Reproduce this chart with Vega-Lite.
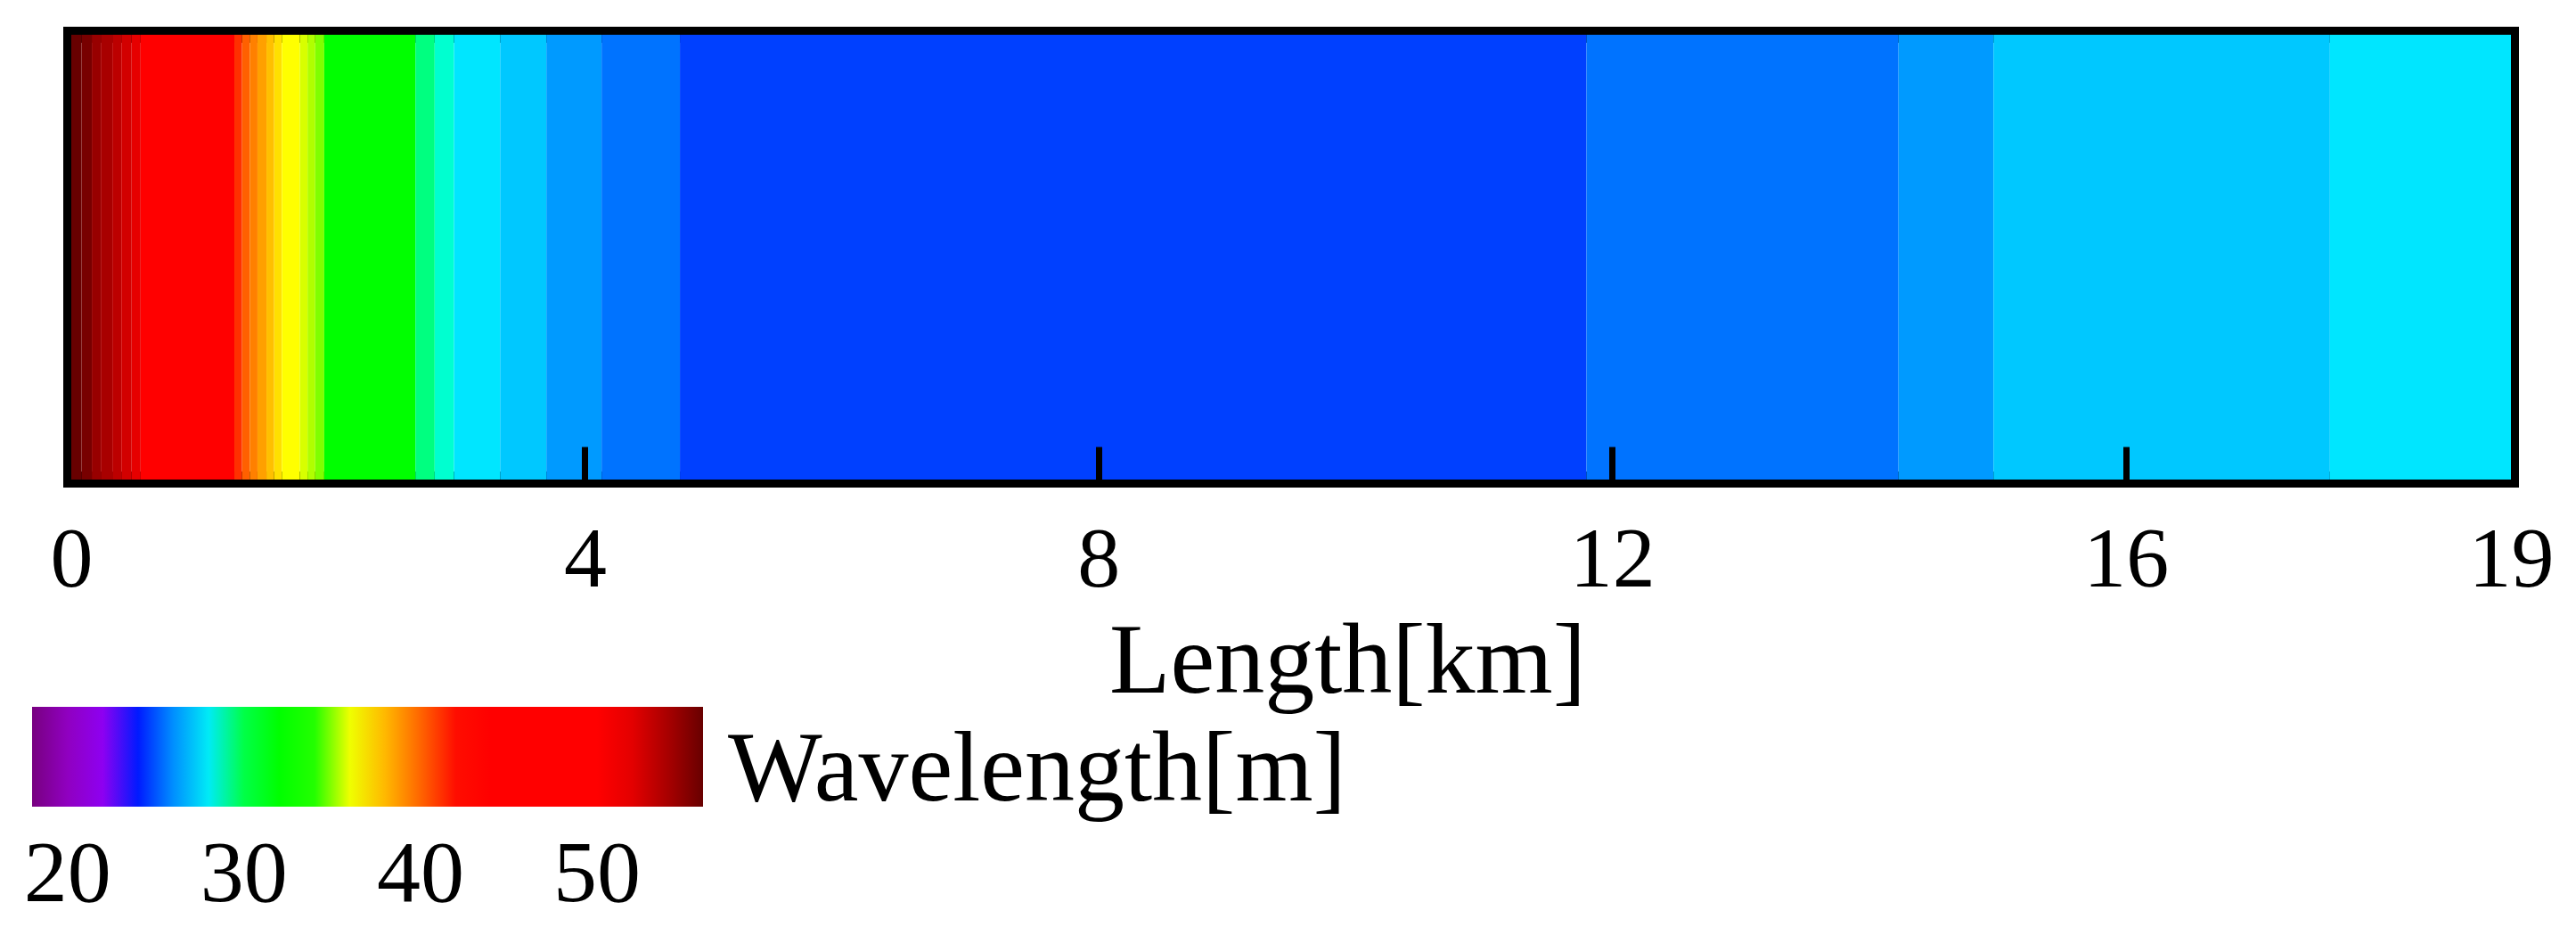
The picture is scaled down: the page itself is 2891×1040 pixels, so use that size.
{
  "$schema": "https://vega.github.io/schema/vega-lite/v6.json",
  "width": 2738,
  "height": 499,
  "autosize": {"type": "none"},
  "padding": {"left": 80, "top": 39, "right": 73, "bottom": 502},
  "background": "white",
  "config": {
    "view": {"stroke": "black", "strokeWidth": 18},
    "font": "Liberation Serif"
  },
  "data": {
    "values": [
      {"start": 0, "end": 0.08, "wl": 56.0},
      {"start": 0.08, "end": 0.16, "wl": 55.3},
      {"start": 0.16, "end": 0.23, "wl": 54.7},
      {"start": 0.23, "end": 0.32, "wl": 54.0},
      {"start": 0.32, "end": 0.39, "wl": 53.3},
      {"start": 0.39, "end": 0.47, "wl": 52.6},
      {"start": 0.47, "end": 0.54, "wl": 51.9},
      {"start": 0.54, "end": 1.27, "wl": 46.0},
      {"start": 1.27, "end": 1.33, "wl": 41.2},
      {"start": 1.33, "end": 1.39, "wl": 40.1},
      {"start": 1.39, "end": 1.45, "wl": 39.4},
      {"start": 1.45, "end": 1.52, "wl": 38.6},
      {"start": 1.52, "end": 1.58, "wl": 37.8},
      {"start": 1.58, "end": 1.64, "wl": 37.0},
      {"start": 1.64, "end": 1.78, "wl": 36.2},
      {"start": 1.78, "end": 1.84, "wl": 35.7},
      {"start": 1.84, "end": 1.90, "wl": 35.3},
      {"start": 1.90, "end": 1.97, "wl": 34.8},
      {"start": 1.97, "end": 2.68, "wl": 32.0},
      {"start": 2.68, "end": 2.83, "wl": 29.6},
      {"start": 2.83, "end": 2.98, "wl": 28.8},
      {"start": 2.98, "end": 3.34, "wl": 27.8},
      {"start": 3.34, "end": 3.70, "wl": 27.0},
      {"start": 3.70, "end": 4.13, "wl": 26.2},
      {"start": 4.13, "end": 4.74, "wl": 25.5},
      {"start": 4.74, "end": 11.80, "wl": 24.6},
      {"start": 11.80, "end": 14.23, "wl": 25.5},
      {"start": 14.23, "end": 14.97, "wl": 26.2},
      {"start": 14.97, "end": 17.59, "wl": 27.0},
      {"start": 17.59, "end": 19, "wl": 27.8}
    ]
  },
  "mark": {"type": "rect"},
  "encoding": {
    "x": {
      "field": "start",
      "type": "quantitative",
      "scale": {"domain": [0, 19], "nice": false, "zero": false},
      "axis": {
        "values": [0, 4, 8, 12, 16, 19],
        "format": "d",
        "title": "Length[km]",
        "domain": false,
        "grid": false,
        "ticks": true,
        "tickSize": -37,
        "tickWidth": 7,
        "tickColor": "black",
        "tickOpacity": {"condition": {"test": "datum.value == 0 || datum.value == 19", "value": 0}, "value": 1},
        "labelFontSize": 96,
        "labelFont": "Liberation Serif",
        "labelColor": "black",
        "labelPadding": 80,
        "labelFlush": false,
        "labelOverlap": false,
        "titleFont": "Liberation Serif",
        "titleFontSize": 112,
        "titleFontWeight": "normal",
        "titleColor": "black",
        "titleX": 1432,
        "titleY": 238,
        "titleBaseline": "alphabetic",
        "titleAlign": "center",
        "zindex": 1
      }
    },
    "x2": {"field": "end"},
    "color": {
      "field": "wl",
      "type": "quantitative",
      "scale": {
        "domain": [18, 20, 21.6, 22.6, 23.6, 24.6, 25.5, 26.2, 27.0, 27.8, 28.8, 29.6, 30.5, 33.7, 34.8, 35.3, 35.7, 36.2, 37.0, 37.8, 38.6, 39.4, 40.1, 41.2, 42.3, 51.2, 51.9, 52.6, 53.3, 54.0, 54.7, 55.3, 56.0],
        "range": ["#780080", "#9000c0", "#9800e8", "#8000ff", "#0000ff", "#0040ff", "#0073ff", "#009aff", "#00c8ff", "#00e6ff", "#00ffd0", "#00ff80", "#00ff00", "#00ff00", "#80ff00", "#b0ff00", "#d8ff00", "#ffff00", "#ffe000", "#ffc000", "#ffa000", "#ff8000", "#ff6000", "#ff3000", "#ff0000", "#ff0000", "#e60000", "#d20000", "#bc0000", "#a80000", "#980000", "#780000", "#680000"],
        "interpolate": "rgb"
      },
      "legend": {
        "orient": "none",
        "legendX": -44,
        "legendY": 754,
        "direction": "horizontal",
        "gradientLength": 753,
        "gradientThickness": 112,
        "gradientStrokeWidth": 0,
        "values": [20, 30, 40, 50],
        "labelFont": "Liberation Serif",
        "labelFontSize": 98,
        "labelColor": "black",
        "labelOffset": 29,
        "labelOverlap": false,
        "labelFlush": false,
        "title": "Wavelength[m]",
        "titleOrient": "right",
        "titleFont": "Liberation Serif",
        "titleFontSize": 112,
        "titleFontWeight": "normal",
        "titleColor": "black",
        "titlePadding": 28,
        "titleLimit": 3000,
        "titleBaseline": "line-top",
        "titleLineHeight": 146,
        "titleAnchor": "start",
        "padding": 0
      }
    }
  }
}
